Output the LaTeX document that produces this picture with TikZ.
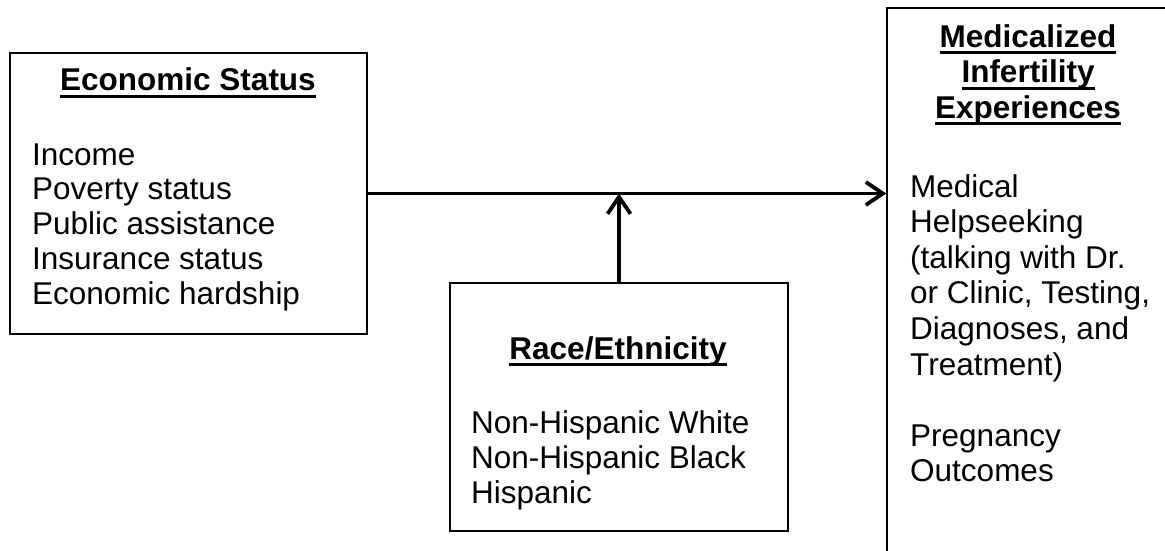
\documentclass[tikz,border=0pt]{standalone}
\usepackage{fontspec}
\setmainfont{Liberation Sans}
\usetikzlibrary{arrows.meta}

% bold heading with a thick underline under each line
\newcommand\headline[1]{\setbox0\hbox{\bfseries #1}\rlap{\rule[-7pt]{\wd0}{3pt}}\box0}

\tikzset{
  box/.style={draw=black, line width=1.5pt, rectangle, inner sep=0pt},
  txt/.style={inner sep=0pt, font=\fontsize{31.5}{34.8}\selectfont},
  flow/.style={line width=3.8pt, -{Straight Barb[length=17pt,width=23pt,line width=3.8pt]}}
}

\begin{document}
\begin{tikzpicture}[x=1pt,y=-1pt]
  \path[use as bounding box, clip] (0,0) rectangle (1165,551);
  \fill[white] (0,0) rectangle (1165,551);

  % boxes
  \node[box, minimum width=357pt, minimum height=281pt] (econ) at (188.5,193.5) {};
  \node[box, minimum width=338pt, minimum height=248pt] (race) at (619,407) {};
  \node[box, minimum width=282pt, minimum height=592pt] (med) at (1028,304) {};

  % Economic Status (base anchor = baseline of the last line)
  \node[txt, anchor=base] (econT) at (188,91) {\headline{Economic Status}};
  \node[txt, anchor=base west, align=left] (econL) at (32,304.2)
    {Income\\Poverty status\\Public assistance\\Insurance status\\Economic hardship};

  % Race/Ethnicity
  \node[txt, anchor=base] (raceT) at (618,359) {\headline{Race/Ethnicity}};
  \node[txt, anchor=base west, align=left, font=\fontsize{31.5}{35}\selectfont] (raceL) at (471,503)
    {Non-Hispanic White\\Non-Hispanic Black\\Hispanic};

  % Medicalized Infertility Experiences
  \node[txt, anchor=base, align=center, font=\fontsize{31.5}{35.5}\selectfont] (medT) at (1028,118)
    {\headline{Medicalized}\\\headline{Infertility}\\\headline{Experiences}};
  \node[txt, anchor=base west, align=left, font=\fontsize{31.5}{35.6}\selectfont] (medL) at (910,481.8)
    {Medical\\Helpseeking\\(talking with Dr.\\or Clinic, Testing,\\Diagnoses, and\\Treatment)\\[35.6pt]Pregnancy\\Outcomes};

  % connectors
  \coordinate (join) at (race.north |- econ.east);
  \draw[flow] (econ.east) -- (econ.east -| med.west);
  \draw[flow] (race.north) -- (join);
\end{tikzpicture}
\end{document}
